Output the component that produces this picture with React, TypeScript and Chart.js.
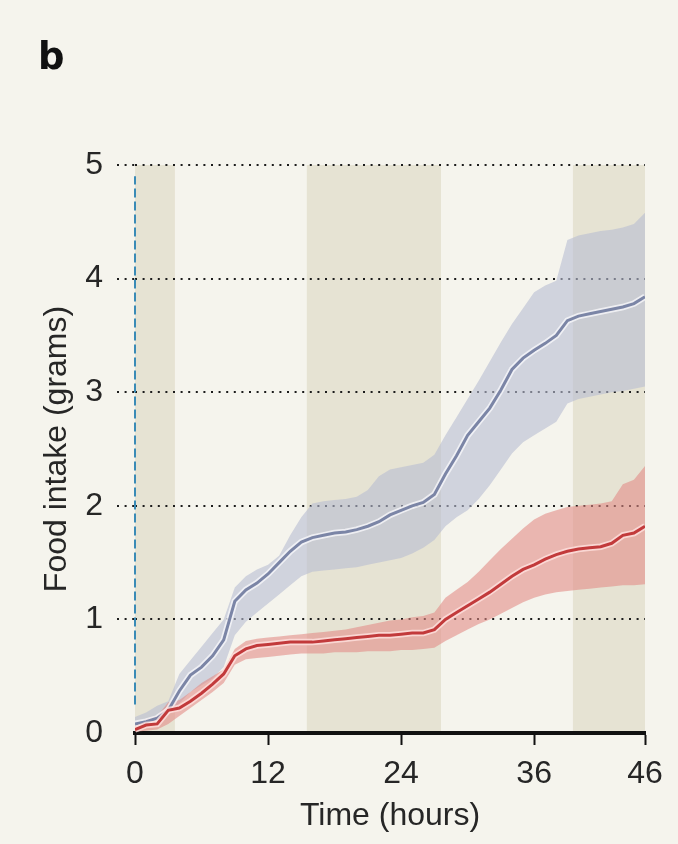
import React, { useEffect, useRef } from "react";
import { Chart, registerables } from "chart.js";

Chart.register(...registerables);

// ---- data ----
const hours = [
  0, 1, 2, 3, 4, 5, 6, 7, 8, 9, 10, 11, 12, 13, 14, 15, 16, 17, 18, 19, 20, 21, 22, 23,
  24, 25, 26, 27, 28, 29, 30, 31, 32, 33, 34, 35, 36, 37, 38, 39, 40, 41, 42, 43, 44, 45, 46,
];

const controlMean = [
  0.08, 0.1, 0.13, 0.2, 0.37, 0.51, 0.58, 0.68, 0.82, 1.16, 1.26, 1.32, 1.4, 1.5, 1.6, 1.68,
  1.72, 1.74, 1.76, 1.77, 1.79, 1.82, 1.86, 1.92, 1.96, 2.0, 2.03, 2.1, 2.28, 2.44, 2.62, 2.74,
  2.86, 3.02, 3.2, 3.3, 3.37, 3.43, 3.5, 3.63, 3.67, 3.69, 3.71, 3.73, 3.75, 3.78, 3.84,
];
const controlUpper = [
  0.14, 0.18, 0.24, 0.28, 0.52, 0.64, 0.76, 0.88, 1.0, 1.28, 1.38, 1.44, 1.48, 1.56, 1.74, 1.9,
  2.02, 2.04, 2.05, 2.06, 2.08, 2.14, 2.26, 2.32, 2.34, 2.36, 2.38, 2.45, 2.62, 2.78, 2.94, 3.1,
  3.27, 3.44, 3.6, 3.74, 3.88, 3.94, 3.98, 4.34, 4.38, 4.4, 4.42, 4.43, 4.45, 4.48, 4.58,
];
const controlLower = [
  0.06, 0.08, 0.1, 0.18, 0.26, 0.36, 0.42, 0.48, 0.58, 0.86, 0.98, 1.06, 1.14, 1.22, 1.3, 1.38,
  1.42, 1.43, 1.44, 1.45, 1.46, 1.48, 1.5, 1.52, 1.54, 1.58, 1.63, 1.7, 1.82, 1.9, 1.96, 2.06,
  2.18, 2.32, 2.46, 2.56, 2.62, 2.68, 2.74, 2.9, 2.94, 2.96, 2.98, 3.0, 3.01, 3.03, 3.05,
];

const treatedMean = [
  0.03, 0.07, 0.08, 0.2, 0.22, 0.28, 0.35, 0.43, 0.52, 0.68, 0.74, 0.77, 0.78, 0.79, 0.8, 0.8,
  0.8, 0.81, 0.82, 0.83, 0.84, 0.85, 0.86, 0.86, 0.87, 0.88, 0.88, 0.91, 1.0, 1.06, 1.12, 1.18,
  1.24, 1.31, 1.38, 1.44, 1.48, 1.53, 1.57, 1.6, 1.62, 1.63, 1.64, 1.67, 1.74, 1.76, 1.82,
];
const treatedUpper = [
  0.06, 0.12, 0.15, 0.27, 0.29, 0.36, 0.44, 0.5, 0.56, 0.74, 0.81, 0.83, 0.84, 0.85, 0.86, 0.87,
  0.88, 0.89, 0.9, 0.91, 0.93, 0.95, 0.97, 0.99, 1.0, 1.02, 1.03, 1.06, 1.19, 1.26, 1.33, 1.42,
  1.52, 1.62, 1.71, 1.8, 1.88, 1.93, 1.96, 1.99, 2.0, 2.01, 2.02, 2.04, 2.19, 2.23, 2.35,
];
const treatedLower = [
  0.01, 0.02, 0.03, 0.08, 0.15, 0.22, 0.29, 0.36, 0.44, 0.6, 0.65, 0.66, 0.67, 0.68, 0.69, 0.7,
  0.7, 0.7, 0.71, 0.71, 0.71, 0.72, 0.72, 0.72, 0.73, 0.73, 0.74, 0.75, 0.81, 0.86, 0.91, 0.96,
  1.0, 1.05, 1.1, 1.15, 1.19, 1.22, 1.24, 1.25, 1.26, 1.27, 1.28, 1.29, 1.3, 1.3, 1.31,
];

const darkPeriods: [number, number][] = [
  [0, 3.6],
  [15.5, 27.6],
  [39.5, 46],
];
const xTickValues = [0, 12, 24, 36, 46];
const yTickValues = [0, 1, 2, 3, 4, 5];
const markerHour = 0;
const markerRange = [0.25, 4.9];

// ---- styles ----
const FONT = "'Liberation Sans', Arial, Helvetica, sans-serif";
const BG = "#f5f4ed";
const BAND = "#e6e3d3";

const toPts = (ys: number[]) => hours.map((h, i) => ({ x: h, y: ys[i] }));

const backgroundPlugin = {
  id: "bgBands",
  beforeDraw(chart: any) {
    const { ctx, scales } = chart;
    const xs = scales.x;
    const ys = scales.y;
    ctx.save();
    ctx.fillStyle = BG;
    ctx.fillRect(0, 0, chart.width, chart.height);
    ctx.fillStyle = BAND;
    const top = ys.getPixelForValue(5);
    const bottom = ys.getPixelForValue(0);
    for (const [a, b] of darkPeriods) {
      const x1 = xs.getPixelForValue(a);
      const x2 = xs.getPixelForValue(b);
      ctx.fillRect(x1, top, x2 - x1, bottom - top);
    }
    ctx.restore();
  },
};

export default function App() {
  const ref = useRef<HTMLCanvasElement | null>(null);

  useEffect(() => {
    if (!ref.current) return;
    const base = { pointRadius: 0, pointHoverRadius: 0, tension: 0 };
    const chart = new Chart(ref.current, {
      type: "line",
      data: {
        datasets: [
          {
            ...base,
            label: "controlUpper",
            data: toPts(controlUpper),
            borderWidth: 0,
            borderColor: "rgba(0,0,0,0)",
            backgroundColor: "rgba(183,188,210,0.6)",
            fill: 1,
            order: 10,
          },
          {
            ...base,
            label: "controlLower",
            data: toPts(controlLower),
            borderWidth: 0,
            borderColor: "rgba(0,0,0,0)",
            fill: false,
            order: 10,
          },
          {
            ...base,
            label: "treatedUpper",
            data: toPts(treatedUpper),
            borderWidth: 0,
            borderColor: "rgba(0,0,0,0)",
            backgroundColor: "rgba(226,138,132,0.58)",
            fill: 3,
            order: 9,
          },
          {
            ...base,
            label: "treatedLower",
            data: toPts(treatedLower),
            borderWidth: 0,
            borderColor: "rgba(0,0,0,0)",
            fill: false,
            order: 9,
          },
          {
            ...base,
            label: "controlHalo",
            data: toPts(controlMean),
            borderColor: "rgba(250,250,252,0.75)",
            borderWidth: 6.5,
            fill: false,
            order: 6,
          },
          {
            ...base,
            label: "controlMean",
            data: toPts(controlMean),
            borderColor: "#7b85a6",
            borderWidth: 3,
            fill: false,
            order: 5,
          },
          {
            ...base,
            label: "treatedHalo",
            data: toPts(treatedMean),
            borderColor: "rgba(255,225,222,0.8)",
            borderWidth: 6.5,
            fill: false,
            order: 4,
          },
          {
            ...base,
            label: "treatedMean",
            data: toPts(treatedMean),
            borderColor: "#c23a3b",
            borderWidth: 3,
            fill: false,
            order: 3,
          },
          {
            ...base,
            label: "marker",
            data: [
              { x: markerHour, y: markerRange[0] },
              { x: markerHour, y: markerRange[1] },
            ],
            borderColor: "#3a8bb6",
            borderWidth: 2,
            borderDash: [9, 4],
            fill: false,
            clip: false,
            order: 1,
          },
        ],
      },
      options: {
        animation: false,
        responsive: false,
        devicePixelRatio: 1,
        events: [],
        layout: { padding: { left: 38, right: 33, top: 0, bottom: 0 } },
        plugins: {
          legend: { display: false },
          tooltip: { enabled: false },
          title: {
            display: true,
            text: "b",
            align: "start",
            color: "#111",
            font: { family: "'DejaVu Sans', " + FONT, size: 37, weight: "bold", lineHeight: 1.2 },
            padding: { top: 37, bottom: 83.6 },
          },
        },
        scales: {
          x: {
            type: "linear",
            min: 0,
            max: 46,
            afterBuildTicks: (s: any) => {
              s.ticks = xTickValues.map((v) => ({ value: v }));
            },
            afterFit: (s: any) => {
              s.height = 111;
            },
            ticks: {
              color: "#262626",
              font: { family: FONT, size: 32 },
              padding: 10,
              maxRotation: 0,
              autoSkip: false,
            },
            grid: {
              drawOnChartArea: false,
              drawTicks: true,
              tickLength: 12,
              tickColor: "#111",
              tickWidth: 2,
            },
            border: { display: true, color: "#111", width: 4 },
            title: {
              display: true,
              text: "Time (hours)",
              color: "#262626",
              font: { family: FONT, size: 32, lineHeight: 1.2 },
              padding: { top: 0, bottom: 9 },
            },
          },
          y: {
            type: "linear",
            min: 0,
            max: 5,
            afterBuildTicks: (s: any) => {
              s.ticks = yTickValues.map((v) => ({ value: v }));
            },
            afterFit: (s: any) => {
              s.width = 97;
            },
            ticks: {
              color: "#262626",
              font: { family: FONT, size: 32 },
              padding: 14,
            },
            grid: {
              drawOnChartArea: true,
              drawTicks: true,
              tickLength: 18,
              lineWidth: 2,
              tickWidth: 2,
              color: (c: any) => (c.tick && c.tick.value === 0 ? "rgba(0,0,0,0)" : "#1c1c1c"),
              tickColor: (c: any) => (c.tick && c.tick.value === 0 ? "rgba(0,0,0,0)" : "#1c1c1c"),
              tickBorderDash: [2, 5.6],
            },
            border: { display: false, dash: [2, 5.6] },
            title: {
              display: true,
              text: "Food intake (grams)",
              color: "#262626",
              font: { family: FONT, size: 32, lineHeight: 1.2 },
              padding: { top: 0, bottom: 0 },
            },
          },
        },
      },
      plugins: [backgroundPlugin],
    } as any);
    return () => chart.destroy();
  }, []);

  return (
    <div style={{ position: "absolute", left: 0, top: 0, width: 678, height: 844, background: BG }}>
      <canvas ref={ref} width={678} height={844} style={{ display: "block", width: 678, height: 844 }} />
    </div>
  );
}
